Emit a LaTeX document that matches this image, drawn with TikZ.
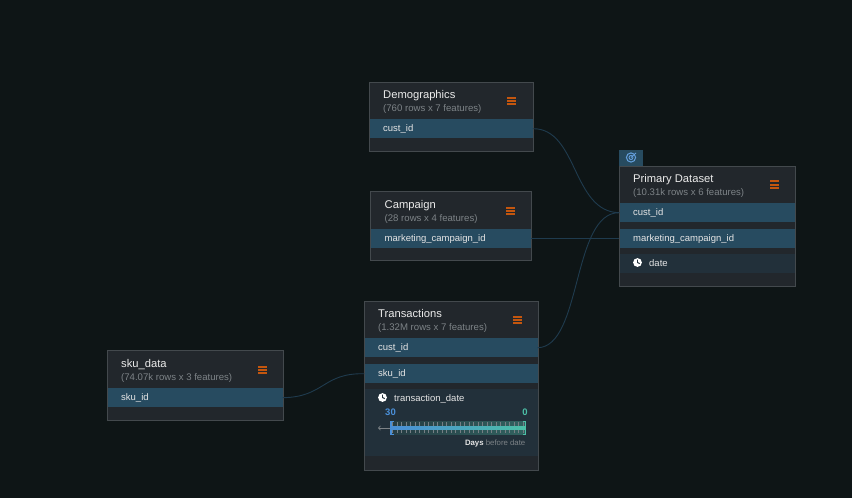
\documentclass[tikz,border=0pt]{standalone}
\usepackage{fontspec}
\setmainfont{Liberation Sans}
\definecolor{pagebg}{HTML}{0E1516}
\definecolor{cardbg}{HTML}{22272C}
\definecolor{cardline}{HTML}{43494D}
\definecolor{rowbg}{HTML}{274B60}
\definecolor{bandbg}{HTML}{22303A}
\definecolor{linkline}{HTML}{1F3B4E}
\definecolor{subtext}{HTML}{7D8387}
\definecolor{menuorange}{HTML}{C4560E}
\definecolor{rulerblue}{HTML}{4A8FD8}
\definecolor{rulerteal}{HTML}{4CBFA6}
\tikzset{
    x=1pt, y=-1pt,
    card/.style={draw=cardline, line width=0.9pt, fill=cardbg, anchor=north west, inner sep=0pt},
    keyrow/.style={fill=rowbg, anchor=north west, inner sep=0pt, minimum height=19pt},
    band/.style={fill=bandbg, anchor=north west, inner sep=0pt},
    title/.style={text=white!92!black, font=\fontsize{11.2}{13}\selectfont, anchor=base west, inner sep=0pt},
    subtitle/.style={text=subtext, font=\fontsize{9.6}{12}\selectfont, anchor=base west, inner sep=0pt},
    rowtext/.style={text=white!90!black, font=\fontsize{9.5}{12}\selectfont, anchor=base west, inner sep=0pt},
    link/.style={draw=linkline, line width=0.9pt},
    menuicon/.pic={
        \fill[menuorange] (-4.4,-4.4) rectangle (4.4,-2.4);
        \fill[menuorange] (-4.4,-1) rectangle (4.4,1);
        \fill[menuorange] (-4.4,2.4) rectangle (4.4,4.4);
    },
    clockicon/.pic={
        \fill[white] (0,0) circle (4.4);
        \draw[bandbg, line width=0.9pt] (0,-2.8) -- (0,0) -- (2.2,1.1);
    }
}
\begin{document}
\begin{tikzpicture}
    \useasboundingbox (0,0) rectangle (852,498);
    \fill[pagebg] (0,0) rectangle (852,498);

    % Demographics
    \node[card, minimum width=164pt, minimum height=69pt] (demo) at (368.8,81.8) {};
    \node[keyrow, minimum width=163pt] (demo cust) at (369.3,119) {};
    \node[title] (demo name) at (383,98) {Demographics};
    \node[subtitle] (demo size) at (383,111) {(760 rows x 7 features)};
    \node[rowtext] (demo key) at (383,131) {cust\_id};
    \pic at (511.5,101) {menuicon};

    % Campaign
    \node[card, minimum width=161pt, minimum height=69pt] (camp) at (370.3,191.3) {};
    \node[keyrow, minimum width=160pt] (camp id) at (370.8,229) {};
    \node[title] (camp name) at (384.5,208) {Campaign};
    \node[subtitle] (camp size) at (384.5,221) {(28 rows x 4 features)};
    \node[rowtext] (camp key) at (384.5,241) {marketing\_campaign\_id};
    \pic at (510.5,211) {menuicon};

    % Primary Dataset
    \node[fill=rowbg, anchor=north west, inner sep=0pt, minimum width=23.5pt, minimum height=16pt] (prim tab) at (619.2,150) {};
    \draw[rulerblue!85!white, line width=1pt] (631,157.5) circle (4.6);
    \draw[rulerblue!85!white, line width=0.9pt] (631,157.5) circle (2);
    \draw[rulerblue!85!white, line width=0.8pt] (631,157.5) -- (636,153);
    \node[card, minimum width=176pt, minimum height=120.5pt] (prim) at (618.8,165.8) {};
    \node[keyrow, minimum width=175pt] (prim cust) at (619.3,203) {};
    \node[keyrow, minimum width=175pt] (prim id) at (619.3,229) {};
    \node[band, minimum width=175pt, minimum height=19pt] (prim band) at (619.3,254) {};
    \node[title] (prim name) at (633,182) {Primary Dataset};
    \node[subtitle] (prim size) at (633,195) {(10.31k rows x 6 features)};
    \node[rowtext] (prim key a) at (633,215) {cust\_id};
    \node[rowtext] (prim key b) at (633,241) {marketing\_campaign\_id};
    \node[rowtext] (prim date) at (649,266) {date};
    \pic at (637.5,262.5) {clockicon};
    \pic at (774.5,184.5) {menuicon};

    % Transactions
    \node[card, minimum width=174pt, minimum height=169pt] (trans) at (363.8,300.8) {};
    \node[keyrow, minimum width=173pt] (trans cust) at (364.3,338) {};
    \node[keyrow, minimum width=173pt] (trans sku) at (364.3,364) {};
    \node[band, minimum width=173pt, minimum height=67pt] (trans band) at (364.3,389) {};
    \node[title] (trans name) at (378,317) {Transactions};
    \node[subtitle] (trans size) at (378,330) {(1.32M rows x 7 features)};
    \node[rowtext] (trans key a) at (378,350) {cust\_id};
    \node[rowtext] (trans key b) at (378,376) {sku\_id};
    \node[rowtext] (trans date) at (394,401) {transaction\_date};
    \pic at (382.5,397.5) {clockicon};
    \pic at (517.5,320) {menuicon};

    % Day ruler
    \shade[left color=bandbg!92!rulerteal, right color=rulerteal!35!bandbg] (391,421) rectangle (525,434);
    \foreach \tick in {0,...,29}
        \draw[white!38!bandbg, line width=0.8pt] (392.5+\tick*4.5,422) -- (392.5+\tick*4.5,433);
    \draw[-to, subtext, line width=0.8pt] (391,428) -- (378,428);
    \shade[left color=rulerblue, right color=rulerteal] (391,426.7) rectangle (525,429.1);
    \draw[rulerblue, line width=1.3pt] (393.5,421.5) -- (391,421.5) -- (391,434.5) -- (393.5,434.5);
    \draw[rulerteal, line width=1.3pt] (523,421.5) -- (525.5,421.5) -- (525.5,434.5) -- (523,434.5);
    \node[text=rulerblue, font=\fontsize{9.5}{12}\bfseries\selectfont, inner sep=0pt] (ruler start) at (390.5,412.5) {30};
    \node[text=rulerteal, font=\fontsize{9.5}{12}\bfseries\selectfont, inner sep=0pt] (ruler end) at (525,412.5) {0};
    \node[anchor=east, inner sep=0pt, text=subtext, font=\fontsize{7.8}{10}\selectfont] (ruler unit) at (525.5,443) {\textcolor{white!90!black}{\textbf{Days}} before date};

    % sku_data
    \node[card, minimum width=176pt, minimum height=70pt] (sku) at (106.8,349.8) {};
    \node[keyrow, minimum width=175pt] (sku id) at (107.3,388) {};
    \node[title] (sku name) at (121,367) {sku\_data};
    \node[subtitle] (sku size) at (121,380) {(74.07k rows x 3 features)};
    \node[rowtext] (sku key) at (121,400) {sku\_id};
    \pic at (262.5,370) {menuicon};

    % Links between key rows
    \draw[link] (demo cust.east) .. controls (578,128) and (572,212) .. (prim cust.west);
    \draw[link] (camp id.east) -- (prim id.west);
    \draw[link] (trans cust.east) .. controls (582,347) and (572,212) .. (prim cust.west);
    \draw[link] (sku id.east) .. controls (325,397) and (322,373) .. (trans sku.west);
\end{tikzpicture}
\end{document}
